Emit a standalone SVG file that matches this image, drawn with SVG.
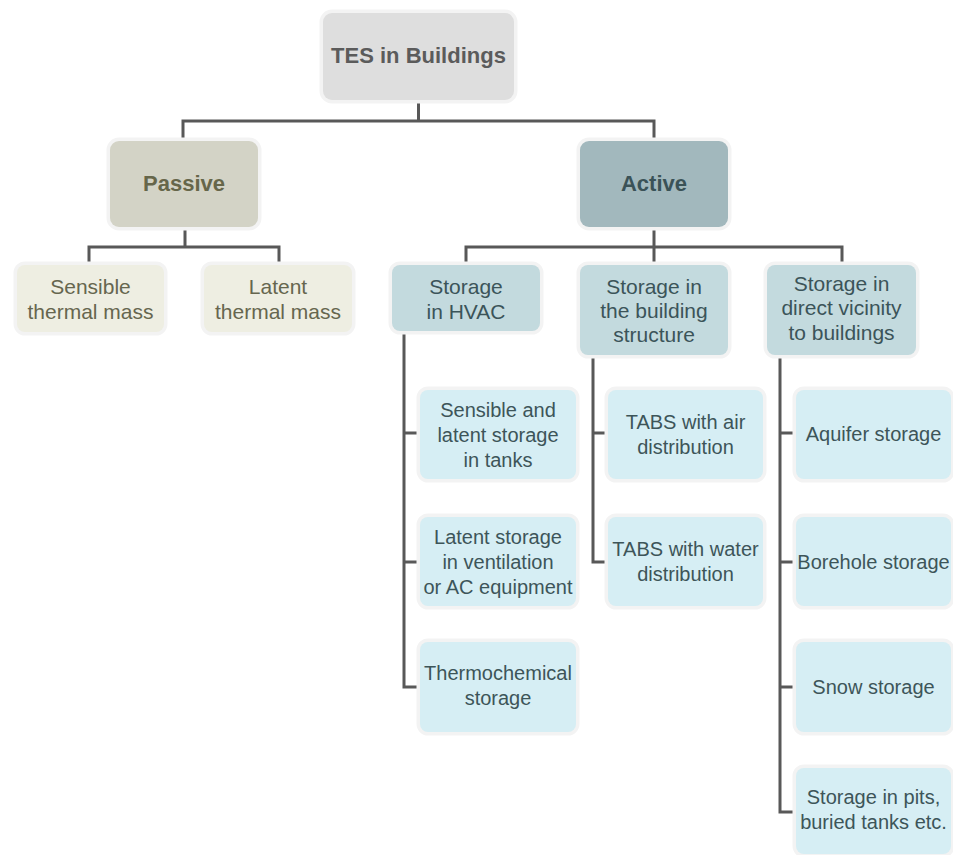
<svg xmlns="http://www.w3.org/2000/svg" width="953" height="855" viewBox="0 0 953 855">
<style>
text{font-family:"Liberation Sans",Arial,sans-serif;text-anchor:middle}
.box{stroke:#f3f3f3;stroke-width:7;paint-order:stroke}
.root rect{fill:#dedede}
.root text{font-size:22px;font-weight:bold;fill:#5b5b5b}
.pas rect{fill:#d3d3c6}
.pas text{font-size:22px;font-weight:bold;fill:#66664a}
.pleaf rect{fill:#eeeee2}
.pleaf text{font-size:21px;fill:#66664f}
.act rect{fill:#a2b8bd}
.act text{font-size:22px;font-weight:bold;fill:#3a5257}
.mid rect{fill:#c3dade}
.mid text{font-size:21px;fill:#3b5459}
.leaf rect{fill:#d6eef4}
.leaf text{font-size:20px;fill:#3d5559}
#connectors path{fill:none;stroke:#585858;stroke-width:3}
</style>
<rect width="953" height="855" fill="#ffffff"/>
<g id="connectors">
<path d="M418.5 100V121M183 140V121H654V140"/>
<path d="M185 227V247M89 264V247H279V264"/>
<path d="M654 227V247M466 264V247H842V264M654 247V264"/>
<path d="M404 331V687H419M404 433H419M404 562H419"/>
<path d="M593 355V562H608M593 433H608"/>
<path d="M780 355V812H795M780 433H795M780 562H795M780 687H795"/>
</g>
<g id="tes" class="root"><rect class="box" x="323" y="13" width="191" height="87" rx="9"/><text x="418.5" y="63">TES in Buildings</text></g>
<g id="passive" class="pas"><rect class="box" x="110" y="141" width="148" height="86" rx="9"/><text x="184" y="191">Passive</text></g>
<g id="active" class="act"><rect class="box" x="580" y="141" width="148" height="86" rx="9"/><text x="654" y="191">Active</text></g>
<g id="sensible-mass" class="pleaf"><rect class="box" x="17" y="265" width="147" height="67" rx="8"/><text x="90.5" y="294">Sensible</text><text x="90.5" y="319">thermal mass</text></g>
<g id="latent-mass" class="pleaf"><rect class="box" x="204" y="265" width="148" height="67" rx="8"/><text x="278" y="294">Latent</text><text x="278" y="319">thermal mass</text></g>
<g id="hvac" class="mid"><rect class="box" x="392" y="265" width="148" height="66" rx="8"/><text x="466" y="294">Storage</text><text x="466" y="319">in HVAC</text></g>
<g id="structure" class="mid"><rect class="box" x="580" y="265" width="148" height="90" rx="8"/><text x="654" y="294">Storage in</text><text x="654" y="318">the building</text><text x="654" y="342">structure</text></g>
<g id="vicinity" class="mid"><rect class="box" x="767" y="265" width="149" height="90" rx="8"/><text x="841.5" y="291">Storage in</text><text x="841.5" y="315">direct vicinity</text><text x="841.5" y="340">to buildings</text></g>
<g id="tanks" class="leaf"><rect class="box" x="420" y="390" width="156" height="89" rx="8"/><text x="498" y="417">Sensible and</text><text x="498" y="442">latent storage</text><text x="498" y="467">in tanks</text></g>
<g id="ventilation" class="leaf"><rect class="box" x="420" y="517" width="156" height="89" rx="8"/><text x="498" y="544">Latent storage</text><text x="498" y="569">in ventilation</text><text x="498" y="594">or AC equipment</text></g>
<g id="thermochemical" class="leaf"><rect class="box" x="420" y="642" width="156" height="90" rx="8"/><text x="498" y="680">Thermochemical</text><text x="498" y="705">storage</text></g>
<g id="tabs-air" class="leaf"><rect class="box" x="608" y="390" width="155" height="89" rx="8"/><text x="685.5" y="429">TABS with air</text><text x="685.5" y="454">distribution</text></g>
<g id="tabs-water" class="leaf"><rect class="box" x="608" y="517" width="155" height="89" rx="8"/><text x="685.5" y="556">TABS with water</text><text x="685.5" y="581">distribution</text></g>
<g id="aquifer" class="leaf"><rect class="box" x="796" y="390" width="155" height="89" rx="8"/><text x="873.5" y="441">Aquifer storage</text></g>
<g id="borehole" class="leaf"><rect class="box" x="796" y="517" width="155" height="89" rx="8"/><text x="873.5" y="569">Borehole storage</text></g>
<g id="snow" class="leaf"><rect class="box" x="796" y="642" width="155" height="90" rx="8"/><text x="873.5" y="694">Snow storage</text></g>
<g id="pits" class="leaf"><rect class="box" x="796" y="768" width="155" height="86" rx="8"/><text x="873.5" y="804">Storage in pits,</text><text x="873.5" y="829">buried tanks etc.</text></g>
</svg>
